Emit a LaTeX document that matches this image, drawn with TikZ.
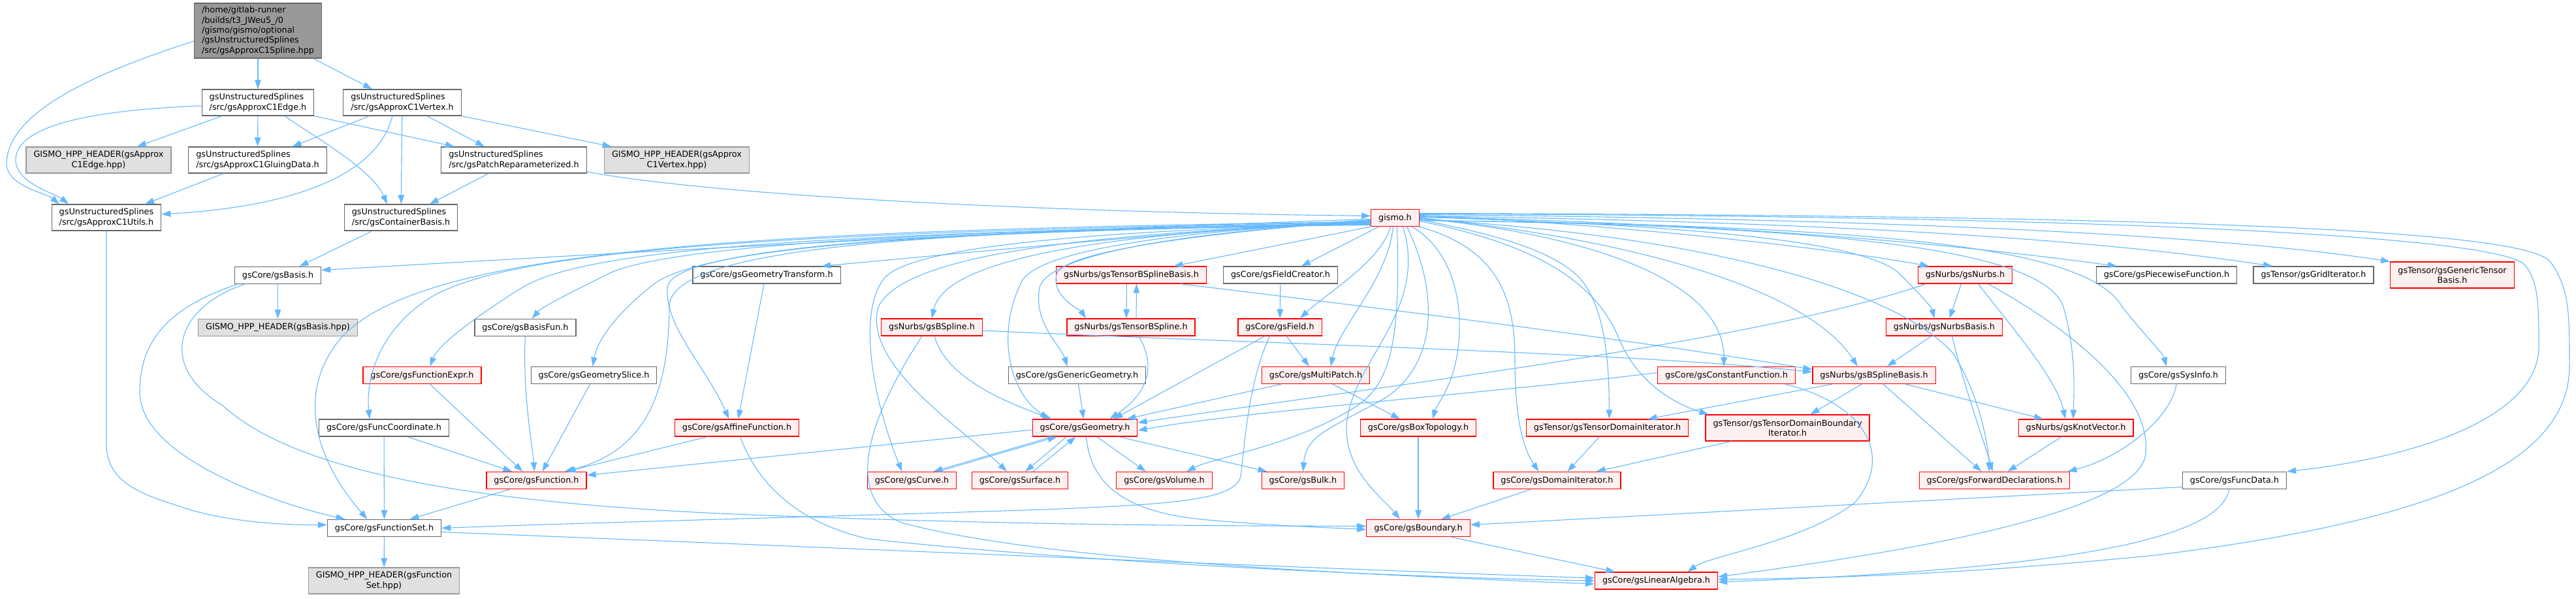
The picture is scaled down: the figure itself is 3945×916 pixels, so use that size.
\documentclass[tikz,border=0pt]{standalone}
\usepackage{fontspec}
\setmainfont{DejaVu Sans}
\usetikzlibrary{arrows.meta}
\definecolor{eblue}{HTML}{63B8FF}
\definecolor{bgray}{HTML}{666666}
\definecolor{hgray}{HTML}{999999}
\definecolor{hfill}{HTML}{E0E0E0}
\definecolor{rfill}{HTML}{FFF0F0}
\definecolor{rline}{HTML}{FF0000}
\tikzset{
  box/.style={draw, rectangle, inner xsep=11.5pt, inner ysep=3pt, line width=1.2pt,
    font=\fontsize{12.8}{15.4}\selectfont, text=black, minimum height=26pt},
  wbox/.style={box, draw=bgray, fill=white},
  rbox/.style={box, draw=rline, fill=rfill},
  gbox/.style={box, draw=hgray, fill=hfill, align=center, minimum height=40pt},
  mbox/.style={box, draw=bgray, fill=hgray, align=left, minimum height=84pt},
  two/.style={minimum height=40pt},
  e/.style={draw=eblue, line width=1.1pt, -{Triangle[length=14pt,width=9.5pt]}}
}
\begin{document}
\begin{tikzpicture}[x=1pt,y=-1pt]
\useasboundingbox (0,0) rectangle (3945,916);
% rank 0-3
\node[mbox] (main) at (395,47) {/home/gitlab-runner\\/builds/t3\_JWeu5\_/0\\/gismo/gismo/optional\\/gsUnstructuredSplines\\/src/gsApproxC1Spline.hpp};
\node[wbox,two,align=left] (edge) at (395,157) {gsUnstructuredSplines\\/src/gsApproxC1Edge.h};
\node[wbox,two,align=left] (vertex) at (616,157) {gsUnstructuredSplines\\/src/gsApproxC1Vertex.h};
\node[gbox] (ghedge) at (151,245) {GISMO\_HPP\_HEADER(gsApprox\\C1Edge.hpp)};
\node[wbox,two,align=left] (gluing) at (394.5,245) {gsUnstructuredSplines\\/src/gsApproxC1GluingData.h};
\node[wbox,two,align=left] (patch) at (787,245) {gsUnstructuredSplines\\/src/gsPatchReparameterized.h};
\node[gbox] (ghvertex) at (1036.5,245) {GISMO\_HPP\_HEADER(gsApprox\\C1Vertex.hpp)};
\node[wbox,two,align=left] (utils) at (163,333) {gsUnstructuredSplines\\/src/gsApproxC1Utils.h};
\node[wbox,two,align=left] (container) at (614,333) {gsUnstructuredSplines\\/src/gsContainerBasis.h};
\node[rbox] (gismo) at (2136.5,333.5) {gismo.h};
% rank 4
\node[wbox] (basis) at (425.5,421.5) {gsCore/gsBasis.h};
\node[wbox] (geotrans) at (1174,421) {gsCore/gsGeometryTransform.h};
\node[rbox] (tbsbasis) at (1732.5,421) {gsNurbs/gsTensorBSplineBasis.h};
\node[wbox] (fieldcreator) at (1961,421) {gsCore/gsFieldCreator.h};
\node[rbox] (nurbs) at (3009.5,421) {gsNurbs/gsNurbs.h};
\node[wbox] (piecewise) at (3318,421) {gsCore/gsPiecewiseFunction.h};
\node[wbox] (griditer) at (3543,421) {gsTensor/gsGridIterator.h};
\node[rbox,two,align=center] (gentensor) at (3755.5,421) {gsTensor/gsGenericTensor\\Basis.h};
% rank 5
\node[gbox,minimum height=26pt] (ghbasis) at (425.5,501.5) {GISMO\_HPP\_HEADER(gsBasis.hpp)};
\node[wbox] (basisfun) at (804.5,501.5) {gsCore/gsBasisFun.h};
\node[rbox] (bspline) at (1427,501) {gsNurbs/gsBSpline.h};
\node[rbox] (tbspline) at (1732,501) {gsNurbs/gsTensorBSpline.h};
\node[rbox] (field) at (1960,501) {gsCore/gsField.h};
\node[rbox] (nurbsbasis) at (2977.5,501) {gsNurbs/gsNurbsBasis.h};
% rank 6
\node[rbox] (funcexpr) at (646.5,574.5) {gsCore/gsFunctionExpr.h};
\node[wbox] (geoslice) at (909.5,574.5) {gsCore/gsGeometrySlice.h};
\node[wbox] (generic) at (1649.5,574.5) {gsCore/gsGenericGeometry.h};
\node[rbox] (multipatch) at (2015,574.5) {gsCore/gsMultiPatch.h};
\node[rbox] (constfunc) at (2644,574.5) {gsCore/gsConstantFunction.h};
\node[rbox] (bsbasis) at (2870,574.5) {gsNurbs/gsBSplineBasis.h};
\node[wbox] (sysinfo) at (3336,574.5) {gsCore/gsSysInfo.h};
% rank 7
\node[wbox] (funccoord) at (588,655) {gsCore/gsFuncCoordinate.h};
\node[rbox] (affine) at (1128.5,655) {gsCore/gsAffineFunction.h};
\node[rbox] (geometry) at (1661.5,655) {gsCore/gsGeometry.h};
\node[rbox] (boxtopo) at (2172,655) {gsCore/gsBoxTopology.h};
\node[rbox] (tdomiter) at (2461.5,655) {gsTensor/gsTensorDomainIterator.h};
\node[rbox,two,align=center] (tdombiter) at (2737.5,655) {gsTensor/gsTensorDomainBoundary\\Iterator.h};
\node[rbox] (knotvec) at (3179,655) {gsNurbs/gsKnotVector.h};
% rank 8
\node[rbox] (function) at (821.5,735.5) {gsCore/gsFunction.h};
\node[rbox] (curve) at (1396.5,735.5) {gsCore/gsCurve.h};
\node[rbox] (surface) at (1562,735.5) {gsCore/gsSurface.h};
\node[rbox] (volume) at (1783,735.5) {gsCore/gsVolume.h};
\node[rbox] (bulk) at (1995.5,735.5) {gsCore/gsBulk.h};
\node[rbox] (domiter) at (2384.5,735.5) {gsCore/gsDomainIterator.h};
\node[rbox] (fwd) at (3054.5,735.5) {gsCore/gsForwardDeclarations.h};
\node[wbox] (funcdata) at (3422,735.5) {gsCore/gsFuncData.h};
% rank 9-10
\node[wbox] (funcset) at (588.5,808.5) {gsCore/gsFunctionSet.h};
\node[rbox] (boundary) at (2172,808.5) {gsCore/gsBoundary.h};
\node[gbox] (ghfuncset) at (588,889) {GISMO\_HPP\_HEADER(gsFunction\\Set.hpp)};
\node[rbox] (linalg) at (2536.5,889) {gsCore/gsLinearAlgebra.h};

% ---- edges: top part
\draw[e] (main) -- (edge);
\draw[e] ([xshift=85pt]main.south) -- ([xshift=-46pt]vertex.north);
\draw[e] ([yshift=-16pt]main.west) .. controls (150,110) and (12,170) .. (10,250) .. controls (10,285) and (70,295) .. ([xshift=-72pt]utils.north);
\draw[e] ([yshift=-5pt]edge.west) .. controls (150,168) and (24,190) .. (24,245) .. controls (24,280) and (84,296) .. ([xshift=-58pt]utils.north);
\draw[e] ([xshift=-55pt]edge.south) -- ([xshift=59pt]ghedge.north);
\draw[e] (edge) -- (gluing);
\draw[e] ([xshift=41pt]edge.south) .. controls (490,215) and (570,260) .. ([xshift=-21pt]container.north);
\draw[e] (edge.south east) -- ([xshift=-91pt]patch.north);
\draw[e] ([xshift=-50pt]vertex.south) -- ([xshift=53pt]gluing.north);
\draw[e] ([xshift=-15pt]vertex.south) .. controls (580,260) and (470,315) .. ([yshift=5pt]utils.east);
\draw[e] (vertex) -- (container);
\draw[e] ([xshift=38pt]vertex.south) -- ([xshift=-45pt]patch.north);
\draw[e] (vertex.south east) -- ([xshift=-100pt]ghvertex.north);
\draw[e] ([xshift=-52pt]gluing.south) -- ([xshift=59pt]utils.north);
\draw[e] ([xshift=-39pt]patch.south) -- ([xshift=44pt]container.north);
\draw[e] ([yshift=-18pt]patch.east) .. controls (1100,300) and (1600,325) .. ([yshift=3pt]gismo.west);
\draw[e] ([xshift=-44pt]container.south) -- ([xshift=33pt]basis.north);
\draw[e] (utils.south) -- (163,680) .. controls (163,745) and (230,760) .. (290,780) .. controls (350,798) and (430,804) .. ([yshift=5pt]funcset.west);
% basis
\draw[e] (basis) -- (ghbasis);
\draw[e] ([xshift=-62pt]basis.south) .. controls (260,470) and (214,520) .. (214,600) .. controls (214,700) and (420,770) .. ([xshift=-60pt]funcset.north);
\draw[e] ([xshift=-51pt]basis.south) .. controls (270,470) and (240,560) .. (340,620) .. controls (460,730) and (760,775) .. (1200,790) .. controls (1600,805) and (1900,805) .. ([yshift=3pt]boundary.west);
% gismo to the left
\draw[e] ([yshift=-2pt]gismo.west) .. controls (1500,355) and (900,390) .. ([yshift=8pt]basis.east);
\draw[e] ([yshift=-3pt]gismo.west) .. controls (1800,355) and (1450,390) .. ([xshift=84pt]geotrans.north);
\draw[e] ([yshift=-6pt]gismo.west) .. controls (1150,352) and (640,380) .. (520,520) .. controls (455,600) and (480,700) .. ([xshift=-26pt]funcset.north);
\draw[e] ([yshift=-7pt]gismo.west) .. controls (1150,355) and (780,385) .. (660,455) .. controls (580,505) and (560,580) .. ([xshift=-22pt]funccoord.north);
\draw[e] ([yshift=-8pt]gismo.west) .. controls (1250,357) and (900,380) .. (800,440) .. controls (720,490) and (670,530) .. ([xshift=12pt]funcexpr.north);
\draw[e] ([yshift=-9pt]gismo.west) .. controls (1400,352) and (1010,378) .. (930,420) .. controls (860,455) and (830,470) .. ([xshift=10pt]basisfun.north);
\draw[e] ([yshift=-10pt]gismo.west) .. controls (1500,354) and (1070,370) .. (995,440) .. controls (945,480) and (915,520) .. ([xshift=-2pt]geoslice.north);
\draw[e] ([yshift=-10pt]gismo.west) .. controls (1450,352) and (1040,375) .. (1025,465) .. controls (1025,600) and (990,690) .. ([xshift=43pt]function.north);
\draw[e] ([yshift=-11pt]gismo.west) .. controls (1550,350) and (1030,370) .. (1022,440) .. controls (1018,500) and (1080,560) .. ([xshift=-12pt]affine.north);
\draw[e] ([yshift=-9pt]gismo.west) .. controls (1700,352) and (1400,375) .. (1355,425) .. controls (1310,480) and (1340,620) .. ([xshift=-15pt]curve.north);
\draw[e] ([yshift=-8pt]gismo.west) .. controls (1700,355) and (1385,385) .. (1345,470) .. controls (1320,560) and (1480,660) .. ([xshift=-20pt]surface.north);
\draw[e] ([yshift=-7pt]gismo.west) .. controls (1800,352) and (1450,380) .. (bspline.north);
\draw[e] ([yshift=-6pt]gismo.west) .. controls (1900,348) and (1600,372) .. (1565,430) .. controls (1525,510) and (1545,600) .. ([xshift=-55pt]geometry.north);
\draw[e] ([yshift=-5pt]gismo.west) .. controls (1900,350) and (1610,378) .. (1592,440) .. controls (1582,495) and (1625,530) .. ([xshift=-15pt]generic.north);
\draw[e] ([yshift=-4pt]gismo.west) .. controls (1900,352) and (1630,380) .. (1618,420) .. controls (1610,455) and (1655,475) .. ([xshift=-69pt]tbspline.north);
\draw[e] (gismo.south west) -- ([xshift=65pt]tbsbasis.north);
\draw[e] ([xshift=-25pt]gismo.south) -- ([xshift=32pt]fieldcreator.north);
\draw[e] ([xshift=-7pt]gismo.south) .. controls (2115,400) and (2030,450) .. ([xshift=31pt]field.north);
\draw[e] ([xshift=-3pt]gismo.south) .. controls (2125,430) and (2050,500) .. ([xshift=23pt]multipatch.north);
\draw[e] ([xshift=3pt]gismo.south) .. controls (2145,520) and (2130,585) .. (2080,620) .. controls (1990,680) and (1860,700) .. ([xshift=34pt]volume.north);
\draw[e] ([xshift=18pt]gismo.south) .. controls (2205,450) and (2200,560) .. (2120,610) .. controls (2040,655) and (2000,665) .. (bulk.north);
\draw[e] ([xshift=12pt]gismo.south) .. controls (2190,480) and (2060,560) .. (2062,660) .. controls (2064,725) and (2120,765) .. ([xshift=-28pt]boundary.north);
\draw[e] ([xshift=26pt]gismo.south) .. controls (2235,390) and (2245,490) .. (2228,560) .. controls (2218,600) and (2200,620) .. ([xshift=22pt]boxtopo.north);
% gismo to the right
\draw[e] ([yshift=4pt]gismo.east) .. controls (2500,345) and (2800,380) .. ([xshift=-55pt]nurbs.north);
\draw[e] ([yshift=2pt]gismo.east) .. controls (2700,345) and (3000,375) .. ([xshift=-76pt]piecewise.north);
\draw[e] ([yshift=3pt]gismo.east) .. controls (2800,340) and (3200,365) .. ([xshift=-63pt]griditer.north);
\draw[e] ([yshift=5pt]gismo.east) .. controls (2900,335) and (3400,360) .. (gentensor.north west);
\draw[e] ([yshift=1pt]gismo.east) .. controls (2600,345) and (2860,370) .. (2910,420) .. controls (2940,450) and (2958,470) .. ([xshift=-15pt]nurbsbasis.north);
\draw[e] (gismo.east) .. controls (2450,360) and (2760,430) .. ([xshift=-25pt]bsbasis.north);
\draw[e] ([yshift=-1pt]gismo.east) .. controls (2400,355) and (2640,420) .. ([xshift=-4pt]constfunc.north);
\draw[e] ([yshift=-2pt]gismo.east) .. controls (2600,360) and (2900,440) .. (2990,540) .. controls (3030,600) and (3045,680) .. ([xshift=-8pt]fwd.north);
\draw[e] ([yshift=-3pt]gismo.east) .. controls (2300,360) and (2400,390) .. (2430,440) .. controls (2460,490) and (2464,560) .. ([xshift=3pt]tdomiter.north);
\draw[e] ([yshift=-5pt]gismo.east) .. controls (2330,370) and (2440,420) .. (2480,520) .. controls (2510,590) and (2570,620) .. ([xshift=5pt]tdombiter.north west);
\draw[e] (gismo.south east) .. controls (2290,380) and (2320,450) .. (2320,550) .. controls (2320,650) and (2335,690) .. ([xshift=-28pt]domiter.north);
\draw[e] ([yshift=-4pt]gismo.east) .. controls (2800,345) and (3130,380) .. (3160,470) .. controls (3180,540) and (3176,600) .. ([xshift=-4pt]knotvec.north);
\draw[e] ([yshift=-4pt]gismo.east) .. controls (2900,345) and (3200,380) .. (3250,470) .. controls (3290,520) and (3312,540) .. ([xshift=-18pt]sysinfo.north);
\draw[e] ([yshift=6pt]gismo.east) .. controls (3200,330) and (3820,360) .. (3866,405) .. controls (3888,430) and (3888,470) .. (3888,530) .. controls (3888,640) and (3700,700) .. (funcdata.north east);
\draw[e] ([yshift=7pt]gismo.east) .. controls (3300,330) and (3860,350) .. (3905,400) .. controls (3935,440) and (3935,480) .. (3935,560) .. controls (3935,720) and (3700,800) .. (3300,850) .. controls (3000,880) and (2800,885) .. ([yshift=2pt]linalg.east);
% middle-left
\draw[e] ([xshift=-4pt]geotrans.south) -- ([xshift=2pt]affine.north);
\draw[e] ([xshift=-45pt]affine.south) -- ([xshift=46pt]function.north);
\draw[e] ([xshift=5pt]affine.south) .. controls (1160,740) and (1220,800) .. (1330,825) .. controls (1700,865) and (2200,885) .. (linalg.west);
\draw[e] ([yshift=-3pt]geometry.west) -- ([yshift=8pt]function.east);
\draw[e] ([xshift=-15pt]bspline.south) .. controls (1330,640) and (1290,760) .. (1380,800) .. controls (1600,860) and (2100,880) .. ([yshift=-5pt]linalg.west);
\draw[e] ([yshift=-6pt]funcset.east) .. controls (1200,835) and (2000,870) .. ([yshift=4pt]linalg.west);
\draw[e] ([xshift=-15pt]field.south) .. controls (1912,580) and (1905,690) .. (1900,730) .. controls (1890,765) and (1800,772) .. (1600,780) .. controls (1300,790) and (900,800) .. (funcset.east);
\draw[e] (basisfun.south) .. controls (800,600) and (815,680) .. ([xshift=-3pt]function.north);
\draw[e] ([xshift=-6pt]geoslice.south) -- ([xshift=9pt]function.north);
\draw[e] ([xshift=12pt]funcexpr.south) -- ([xshift=-21pt]function.north);
\draw[e] ([xshift=36pt]funccoord.south) -- ([xshift=-37pt]function.north);
\draw[e] (funccoord) -- (funcset);
\draw[e] ([xshift=-41pt]function.south) -- ([xshift=39pt]funcset.north);
\draw[e] (funcset) -- (ghfuncset);
% middle
\draw[e] ([xshift=-7pt]tbsbasis.south) -- ([xshift=-7pt]tbspline.north);
\draw[e] ([xshift=8pt]tbspline.north) -- ([xshift=8pt]tbsbasis.south);
\draw[e] ([xshift=75pt]tbsbasis.south) .. controls (2100,470) and (2500,520) .. ([yshift=9pt]bsbasis.west);
\draw[e] ([yshift=-5pt]bspline.east) .. controls (1900,525) and (2500,540) .. ([yshift=5pt]bsbasis.west);
\draw[e] ([xshift=4pt]bspline.south) .. controls (1450,580) and (1540,615) .. ([xshift=-51pt]geometry.north);
\draw[e] ([xshift=12pt]tbspline.south) .. controls (1770,560) and (1760,600) .. ([xshift=38pt]geometry.north);
\draw[e] ([xshift=-23pt]field.south) -- ([xshift=44pt]geometry.north);
\draw[e] ([xshift=10pt]field.south) -- ([xshift=-10pt]multipatch.north);
\draw[e] (fieldcreator) -- (field);
\draw[e] (generic) -- (geometry);
\draw[e] ([xshift=-53pt]multipatch.south) -- ([xshift=64pt]geometry.north);
\draw[e] ([xshift=26pt]multipatch.south) -- ([xshift=-28pt]boxtopo.north);
\draw[e] (boxtopo) -- (boundary);
\draw[e] ([xshift=-60pt]nurbs.south) .. controls (2700,520) and (2200,580) .. ([yshift=8pt]geometry.east);
\draw[e] ([yshift=4pt]constfunc.west) .. controls (2300,600) and (1900,630) .. ([yshift=-4pt]geometry.east);
\draw[e] ([xshift=90pt]constfunc.south) .. controls (2860,620) and (2900,700) .. (2840,770) .. controls (2760,830) and (2620,850) .. ([xshift=48pt]linalg.north);
\draw[e] ([xshift=-50pt]geometry.south) -- ([xshift=33pt]curve.north);
\draw[e] ([xshift=40pt]curve.north) -- ([xshift=-43pt]geometry.south);
\draw[e] ([xshift=-28pt]geometry.south) -- ([xshift=8pt]surface.north);
\draw[e] ([xshift=20pt]surface.north) -- ([xshift=-14pt]geometry.south);
\draw[e] ([xshift=18pt]geometry.south) -- ([xshift=-28pt]volume.north);
\draw[e] ([xshift=52pt]geometry.south) -- ([xshift=-55pt]bulk.north);
\draw[e] ([xshift=2pt]geometry.south) .. controls (1670,740) and (1720,785) .. (1850,796) .. controls (1950,805) and (2040,808) .. ([yshift=-2pt]boundary.west);
% right part
\draw[e] ([xshift=-6pt]nurbs.south) -- ([xshift=8pt]nurbsbasis.north);
\draw[e] ([xshift=20pt]nurbs.south) .. controls (3080,500) and (3150,580) .. ([xshift=-16pt]knotvec.north);
\draw[e] ([xshift=35pt]nurbs.south) .. controls (3200,520) and (3300,620) .. (3285,700) .. controls (3260,800) and (2800,860) .. ([yshift=6pt]linalg.east);
\draw[e] ([xshift=-20pt]nurbsbasis.south) -- ([xshift=20pt]bsbasis.north);
\draw[e] ([xshift=12pt]nurbsbasis.south) .. controls (3010,600) and (3040,680) .. ([xshift=-3pt]fwd.north);
\draw[e] ([xshift=-64pt]bsbasis.south) -- ([xshift=62pt]tdomiter.north);
\draw[e] ([xshift=-19pt]bsbasis.south) -- ([xshift=35pt]tdombiter.north);
\draw[e] ([xshift=14pt]bsbasis.south) -- ([xshift=-20pt]fwd.north);
\draw[e] ([xshift=48pt]bsbasis.south) -- ([xshift=-50pt]knotvec.north);
\draw[e] ([xshift=-22pt]knotvec.south) -- ([xshift=20pt]fwd.north);
\draw[e] ([xshift=-3pt]sysinfo.south) .. controls (3325,640) and (3250,700) .. ([xshift=-4pt]fwd.north east);
\draw[e] ([xshift=-12pt]tdomiter.south) -- ([xshift=16pt]domiter.north);
\draw[e] ([xshift=-86pt]tdombiter.south) -- ([xshift=60pt]domiter.north);
\draw[e] ([xshift=-40pt]domiter.south) -- ([xshift=35pt]boundary.north);
\draw[e] ([yshift=-10pt]funcdata.west) -- ([yshift=5pt]boundary.east);
\draw[e] ([xshift=-8pt]funcdata.south) .. controls (3400,820) and (3200,870) .. ([yshift=-2pt]linalg.east);
\draw[e] ([xshift=50pt]boundary.south) -- ([xshift=-63pt]linalg.north);
\end{tikzpicture}
\end{document}
